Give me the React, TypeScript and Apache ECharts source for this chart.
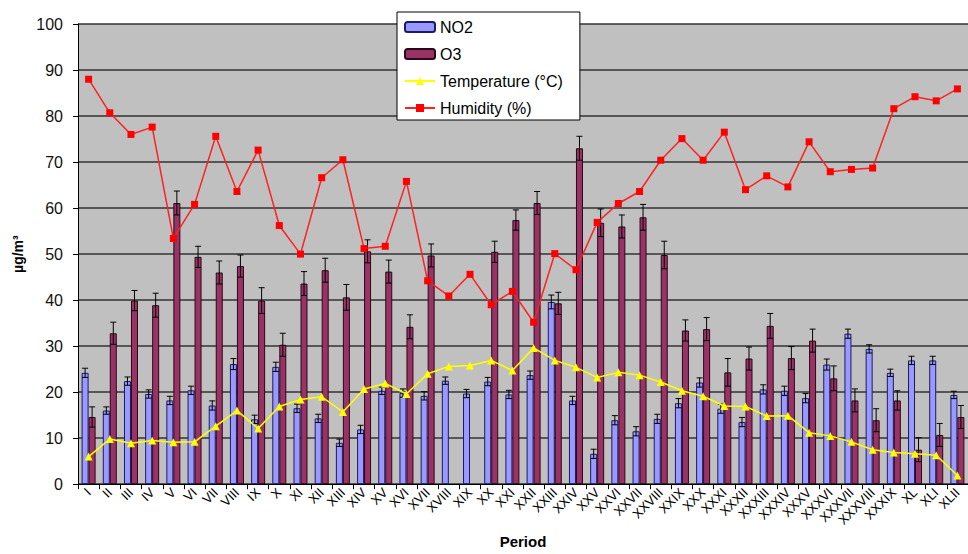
import React, { useEffect, useRef } from "react";
import * as echarts from "echarts";

const periods = [
  "I", "II", "III", "IV", "V", "VI", "VII", "VIII", "IX", "X",
  "XI", "XII", "XIII", "XIV", "XV", "XVI", "XVII", "XVIII", "XIX", "XX",
  "XXI", "XXII", "XXIII", "XXIV", "XXV", "XXVI", "XXVII", "XXVIII", "XXIX", "XXX",
  "XXXI", "XXXII", "XXXIII", "XXXIV", "XXXV", "XXXVI", "XXXVII", "XXXVIII", "XXXIX", "XL",
  "XLI", "XLII",
];

const no2 = [
  24.2, 16.0, 22.4, 19.6, 18.2, 20.4, 17.1, 26.1, 14.1, 25.5,
  16.5, 14.3, 9.0, 11.9, 20.3, 19.8, 19.2, 22.5, 19.7, 22.3,
  19.5, 23.7, 39.6, 18.2, 6.6, 13.9, 11.5, 14.2, 17.6, 22.1,
  16.4, 13.5, 20.6, 20.3, 18.7, 26.0, 32.7, 29.4, 24.2, 26.9,
  26.9, 19.4,
];
const no2Err = [
  1.0, 0.8, 0.9, 0.9, 0.9, 0.9, 1.0, 1.2, 0.9, 1.0,
  0.9, 0.9, 0.8, 0.9, 0.8, 0.9, 0.9, 0.8, 0.9, 0.9,
  0.9, 0.9, 1.5, 0.9, 1.0, 1.0, 1.0, 1.0, 1.0, 1.0,
  1.0, 1.0, 1.0, 1.0, 1.0, 1.2, 1.0, 0.9, 0.8, 0.9,
  0.9, 0.8,
];

const o3 = [
  14.6, 32.8, 39.9, 38.9, 61.1, 49.4, 46.0, 47.4, 39.9, 30.3,
  43.6, 46.5, 40.6, 50.6, 46.2, 34.2, 49.7, null, null, 50.5,
  57.4, 61.1, 39.3, 73.0, 56.8, 56.0, 58.0, 49.8, 33.4, 33.7,
  24.3, 27.3, 34.4, 27.4, 31.2, 23.0, 18.2, 13.9, 18.2, 7.5,
  10.7, 14.6,
];
const o3Err = [
  2.2, 2.4, 2.2, 2.6, 2.6, 2.3, 2.5, 2.4, 2.8, 2.5,
  2.6, 2.6, 2.8, 2.5, 2.5, 2.6, 2.5, 0, 0, 2.3,
  2.2, 2.5, 2.4, 2.6, 3.0, 2.5, 2.8, 3.0, 2.3, 2.5,
  3.0, 2.5, 2.7, 2.5, 2.5, 2.7, 2.5, 2.5, 2.1, 2.6,
  2.5, 2.5,
];

const temperature = [
  6.0, 9.8, 8.9, 9.5, 9.1, 9.2, 12.6, 16.0, 12.1, 16.9,
  18.4, 19.0, 15.7, 20.7, 21.9, 19.6, 24.0, 25.6, 25.8, 26.9,
  24.7, 29.6, 26.9, 25.4, 23.2, 24.3, 23.7, 22.2, 20.3, 19.1,
  17.0, 16.9, 14.8, 14.9, 11.2, 10.5, 9.2, 7.5, 6.9, 6.6,
  6.3, 1.9,
];

const humidity = [
  88.0, 80.7, 76.0, 77.6, 53.4, 60.8, 75.6, 63.6, 72.6, 56.2,
  50.0, 66.6, 70.5, 51.2, 51.7, 65.8, 44.2, 40.9, 45.6, 39.0,
  41.9, 35.2, 50.1, 46.6, 56.9, 61.0, 63.6, 70.4, 75.1, 70.4,
  76.5, 64.0, 67.0, 64.6, 74.4, 67.9, 68.4, 68.7, 81.6, 84.2,
  83.3, 85.9,
];

const yTicks = { min: 0, max: 100, interval: 10 };

const FONT = "'Liberation Sans', Arial, sans-serif";
const BAR_W = 7;

function errorSeries(values: (number | null)[], errs: number[], offset: number) {
  return {
    type: "custom",
    z: 5,
    silent: true,
    renderItem: (params: any, api: any) => {
      const v = api.value(1);
      const e = api.value(2);
      if (v == null || isNaN(v) || !e) return null;
      const idx = api.value(0);
      const top = api.coord([idx, v + e]);
      const bot = api.coord([idx, v - e]);
      const cx = top[0] + offset;
      const st = { stroke: "#000", lineWidth: 1 };
      return {
        type: "group",
        children: [
          { type: "line", shape: { x1: cx, y1: top[1], x2: cx, y2: bot[1] }, style: st },
          { type: "line", shape: { x1: cx - 3, y1: top[1], x2: cx + 3, y2: top[1] }, style: st },
          { type: "line", shape: { x1: cx - 3, y1: bot[1], x2: cx + 3, y2: bot[1] }, style: st },
        ],
      };
    },
    encode: { x: 0, y: 1 },
    data: values.map((v, i) => [i, v == null ? NaN : v, errs[i]]),
  };
}

export default function App() {
  const ref = useRef<HTMLDivElement>(null);
  useEffect(() => {
    if (!ref.current) return;
    const chart = echarts.init(ref.current, undefined, { renderer: "svg" });
    chart.setOption({
      animation: false,
      backgroundColor: "#ffffff",
      textStyle: { fontFamily: FONT },
      grid: {
        left: 78,
        top: 24,
        width: 899,
        height: 467.5,
        show: true,
        backgroundColor: "#C0C0C0",
        borderWidth: 0,
        containLabel: false,
      },
      legend: {
        orient: "vertical",
        left: 397,
        top: 12,
        padding: [7, 17, 4, 7],
        itemGap: 11,
        itemWidth: 30,
        itemHeight: 10,
        backgroundColor: "#ffffff",
        borderColor: "#000",
        borderWidth: 1,
        textStyle: { fontSize: 16, color: "#000", fontFamily: FONT },
        data: ["NO2", "O3", "Temperature (°C)", "Humidity (%)"],
      },
      xAxis: {
        type: "category",
        data: periods,
        boundaryGap: true,
        name: "Period",
        nameLocation: "middle",
        nameGap: 47,
        nameTextStyle: { fontSize: 15, fontWeight: "bold", color: "#000" },
        axisLine: { lineStyle: { color: "#000", width: 1 } },
        axisTick: { show: true, length: 5, alignWithLabel: false, lineStyle: { color: "#000" } },
        axisLabel: { rotate: 45, interval: 0, fontSize: 13, color: "#000", margin: 6 },
        splitLine: { show: false },
      },
      yAxis: {
        type: "value",
        min: yTicks.min,
        max: yTicks.max,
        interval: yTicks.interval,
        name: "µg/m³",
        nameLocation: "middle",
        nameGap: 53,
        nameTextStyle: { fontSize: 14, fontWeight: "bold", color: "#000" },
        axisLine: { show: true, lineStyle: { color: "#000", width: 1 } },
        axisTick: { show: true, length: 5, lineStyle: { color: "#000" } },
        axisLabel: { fontSize: 16, color: "#111", margin: 15 },
        splitLine: { show: true, lineStyle: { color: "#333", width: 1.5 } },
      },
      series: [
        {
          name: "NO2",
          type: "bar",
          data: no2,
          barWidth: BAR_W,
          barGap: "0%",
          itemStyle: { color: "#9999FF", borderColor: "#1a1a66", borderWidth: 1 },
          z: 2,
        },
        {
          name: "O3",
          type: "bar",
          data: o3,
          barWidth: BAR_W,
          barGap: "0%",
          itemStyle: { color: "#993366", borderColor: "#2a0818", borderWidth: 1 },
          z: 2,
        },
        errorSeries(no2, no2Err, -BAR_W / 2),
        errorSeries(o3, o3Err, BAR_W / 2),
        {
          name: "Temperature (°C)",
          type: "line",
          data: temperature,
          symbol: "triangle",
          symbolSize: 8,
          lineStyle: { color: "#FFFF00", width: 1.5 },
          itemStyle: { color: "#FFFF00" },
          z: 8,
        },
        {
          name: "Humidity (%)",
          type: "line",
          data: humidity,
          symbol: "rect",
          symbolSize: 7,
          lineStyle: { color: "#FF2020", width: 1.5 },
          itemStyle: { color: "#FF0000" },
          z: 9,
        },
      ],
    });
    return () => chart.dispose();
  }, []);
  return (
    <div
      ref={ref}
      style={{ position: "fixed", left: 0, top: 0, width: 968, height: 554, overflow: "hidden" }}
    />
  );
}
